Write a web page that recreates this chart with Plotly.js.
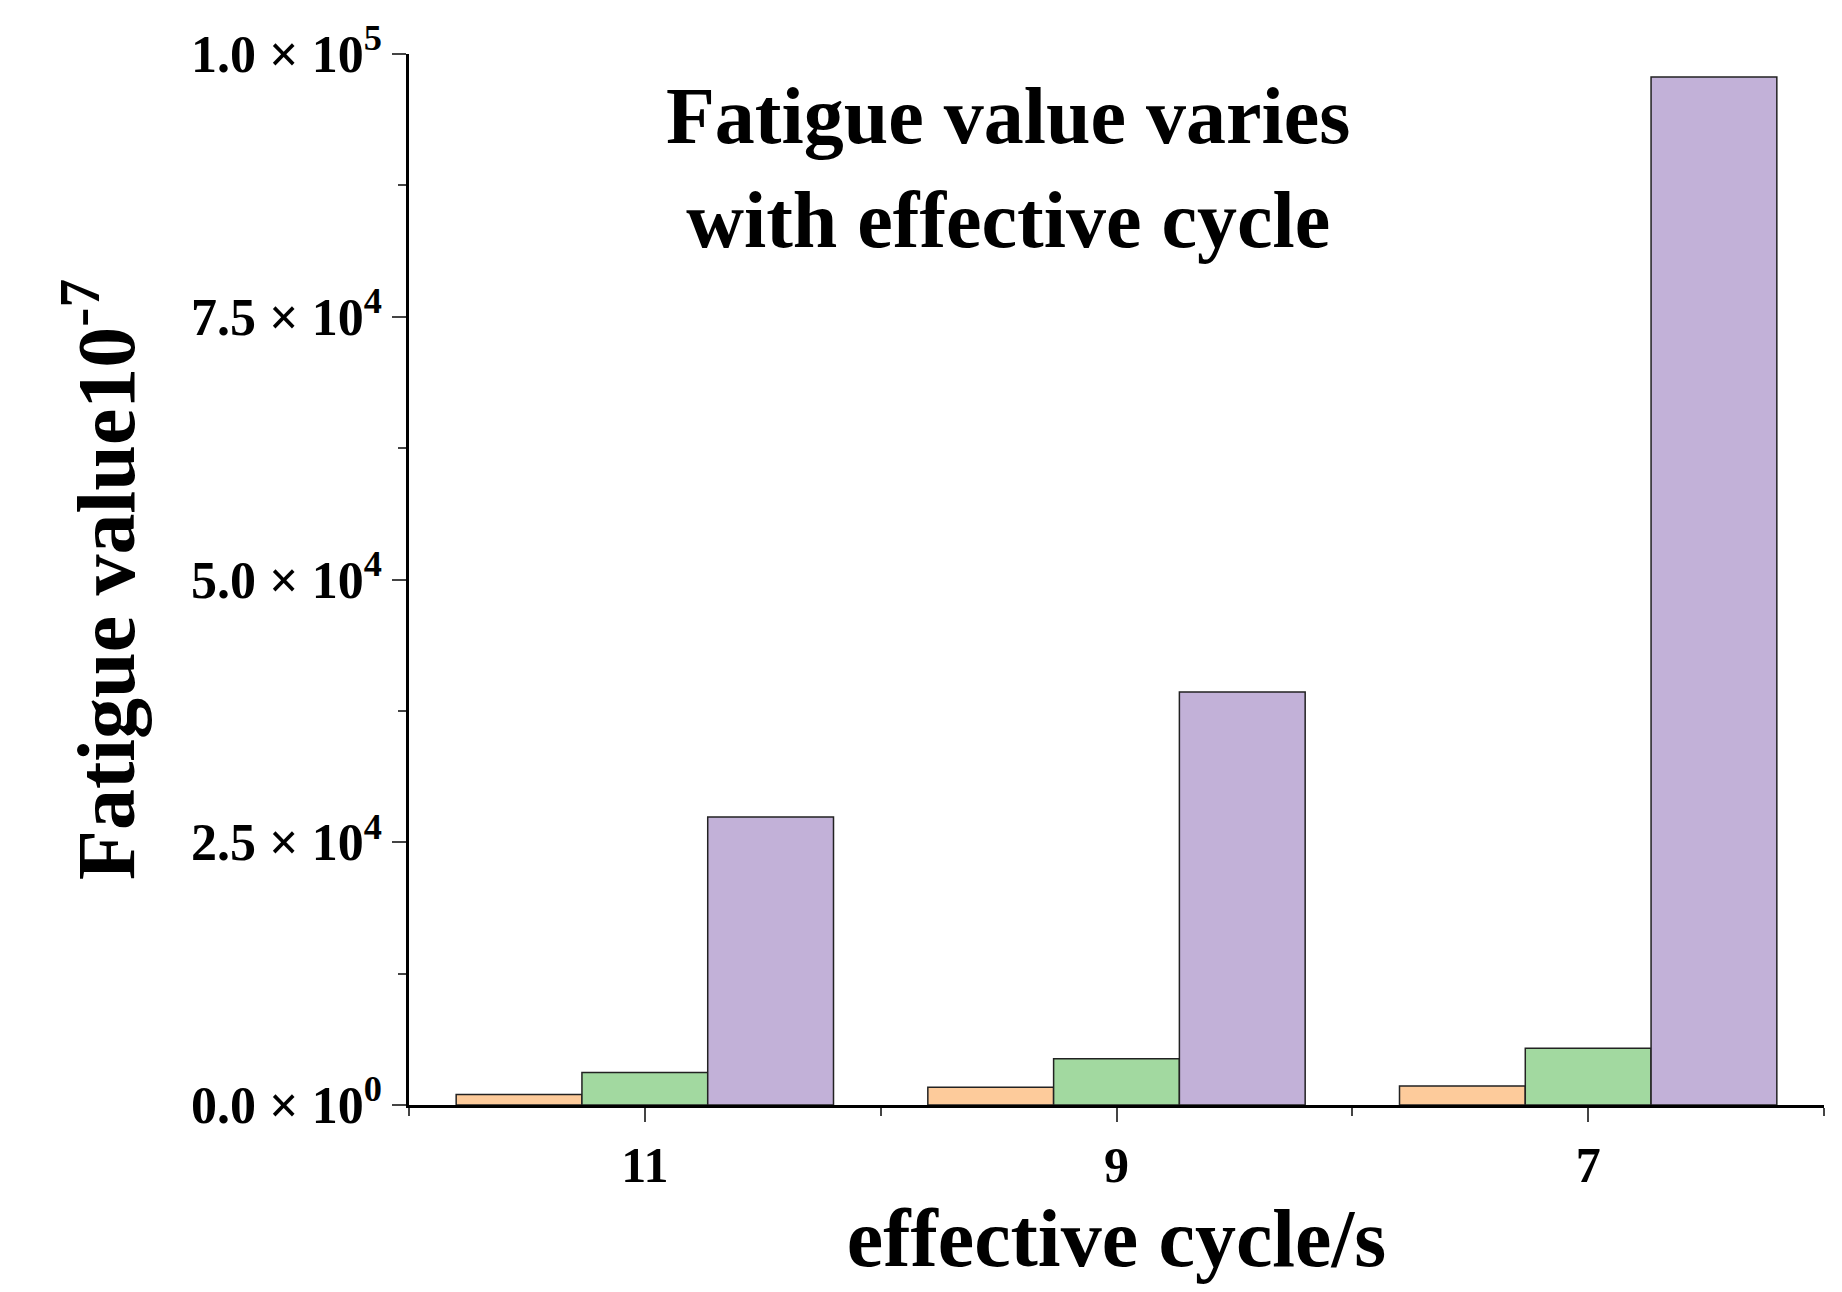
<!DOCTYPE html>
<html>
<head>
<meta charset="utf-8">
<script src="https://cdn.plot.ly/plotly-3.0.1.min.js"></script>
<style>body{margin:0;background:#fff}</style>
</head>
<body>
<div id="chart" style="width:1842px;height:1292px"></div>
<script>
// effective cycle categories
var cycles = ['11', '9', '7'];
var xpos = [0, 1, 2];
// fatigue values
var seriesA = [1000, 1700, 1800];
var seriesB = [3100, 4400, 5400];
var seriesC = [27400, 39300, 97800];
var yTickVals = [0, 25000, 50000, 75000, 100000];
var yTickText = ['0.0 × 10<sup>0</sup>', '2.5 × 10<sup>4</sup>', '5.0 × 10<sup>4</sup>', '7.5 × 10<sup>4</sup>', '1.0 × 10<sup>5</sup>'];

var font = 'Liberation Serif, Times New Roman, serif';
function bar(y, color) {
  return {
    type: 'bar', x: xpos, y: y,
    marker: {color: color, line: {color: '#222', width: 1.5}},
    hoverinfo: 'y'
  };
}
var data = [
  bar(seriesA, '#FDCB9B'),
  bar(seriesB, '#A2D9A0'),
  bar(seriesC, '#C2B1D8')
];
var layout = {
  width: 1842, height: 1292,
  margin: {l: 409, r: 18, t: 54, b: 187},
  barmode: 'group', bargap: 0.2, bargroupgap: 0,
  showlegend: false,
  plot_bgcolor: '#fff', paper_bgcolor: '#fff',
  font: {family: font, color: '#000'},
  xaxis: {
    range: [-0.5, 2.5],
    tickvals: xpos, ticktext: cycles.map(function (c) { return '<b>' + c + '</b>'; }),
    ticks: 'outside', ticklen: 14, tickwidth: 2,
    minor: {dtick: 1, tick0: 0.5, ticks: 'outside', ticklen: 8, tickwidth: 2},
    showline: true, linewidth: 2.5, linecolor: '#000',
    showgrid: false, zeroline: false,
    tickfont: {size: 50},
    title: {text: '<b>effective cycle/s</b>', font: {size: 82}, standoff: 4}
  },
  yaxis: {
    range: [0, 100000],
    tickvals: yTickVals, ticktext: yTickText.map(function (t) { return '<b>' + t + '</b>'; }),
    ticks: 'outside', ticklen: 14, tickwidth: 2,
    minor: {dtick: 12500, ticks: 'outside', ticklen: 8, tickwidth: 2},
    showline: true, linewidth: 2.5, linecolor: '#000',
    showgrid: false, zeroline: false,
    tickfont: {size: 52},
    title: {text: '<b>Fatigue value10<sup>-7</sup></b>', font: {size: 82}, standoff: 30}
  },
  annotations: [{
    xref: 'x', yref: 'paper', x: 0.77, y: 0.985, yanchor: 'top',
    text: '<b>Fatigue value varies<br>with effective cycle</b>',
    showarrow: false, font: {size: 80, family: font}, align: 'center'
  }]
};
Plotly.newPlot('chart', data, layout, {displayModeBar: false});
</script>
</body>
</html>
